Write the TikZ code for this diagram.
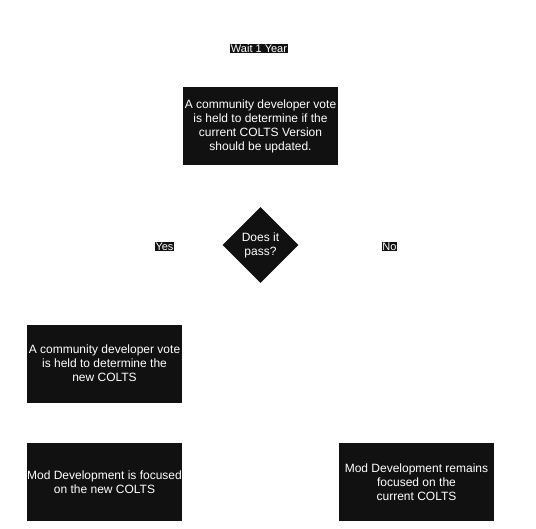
\documentclass[tikz,border=0pt]{standalone}
\usepackage{fontspec}
\setmainfont{Liberation Sans}
\usepackage{tikz}
\usetikzlibrary{shapes.geometric}

\definecolor{boxblack}{HTML}{111111}

\begin{document}
\begin{tikzpicture}[x=1pt, y=-1pt,
    box/.style={fill=boxblack, text=white, minimum width=155pt, minimum height=78pt,
                inner sep=0pt, align=center, font=\fontsize{12}{14}\selectfont},
    decision/.style={diamond, fill=boxblack, text=white, minimum width=76pt, minimum height=76pt,
                inner sep=0pt, align=center, font=\fontsize{12}{14}\selectfont},
    lbl/.style={fill=boxblack, text=white, inner sep=0.8pt, font=\fontsize{11}{12}\selectfont}]
    \useasboundingbox (0, 0) rectangle (536, 528);

    % Yearly vote
    \node[lbl] (wait) at (259, 48.5) {Wait 1 Year};
    \node[box] (vote) at (260.5, 126) {A community developer vote\\is held to determine if the\\current COLTS Version\\should be updated.};

    % Decision
    \node[decision] (pass) at (260.5, 245) {Does it\\pass?};
    \node[lbl] (yes) at (164.5, 246.5) {Yes};
    \node[lbl] (no) at (389.5, 246.5) {No};

    % Outcomes
    \node[box] (newvote) at (104.5, 363.5) {A community developer vote\\is held to determine the\\new COLTS};
    \node[box] (newfocus) at (104.5, 482) {Mod Development is focused\\on the new COLTS};
    \node[box] (keepfocus) at (416.5, 482) {Mod Development remains\\focused on the\\current COLTS};
\end{tikzpicture}
\end{document}
